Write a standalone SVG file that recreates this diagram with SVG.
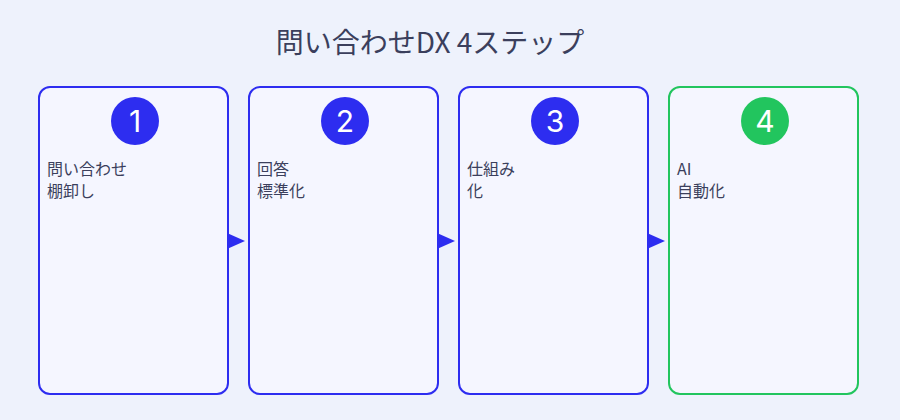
<svg xmlns="http://www.w3.org/2000/svg" width="900" height="420" viewBox="0 0 900 420">
<style>
text{font-family:"Noto Sans CJK JP","Noto Sans",sans-serif;fill:#3b3f5c}
.box{fill:#f5f6ff;stroke:#2d2df0;stroke-width:2}
.g .box{stroke:#22c55e}
.c{fill:#2d2df0}
.g .c{fill:#22c55e}
.n{fill:#fff;font-size:30px;text-anchor:middle;font-family:"Inter","Noto Sans",sans-serif}
.t{font-size:16px}
</style>
<defs><marker id="ah" markerWidth="10" markerHeight="10" refX="9" refY="5" orient="auto" markerUnits="userSpaceOnUse"><path d="M0,0L10,5L0,10Z" fill="#2d2df0"/></marker></defs>
<rect width="900" height="420" fill="#eef2fc"/>
<text x="430" y="53" font-size="28" text-anchor="middle">問い合わせDX 4ステップ</text>
<g id="step1"><rect class="box" x="39" y="87" width="189" height="307" rx="11"/><circle class="c" cx="135" cy="121" r="24"/><text class="n" x="135" y="132">1</text><text class="t" x="47" y="175">問い合わせ</text><text class="t" x="47" y="197">棚卸し</text></g>
<g id="step2"><rect class="box" x="249" y="87" width="189" height="307" rx="11"/><circle class="c" cx="345" cy="121" r="24"/><text class="n" x="345" y="132">2</text><text class="t" x="257" y="175">回答</text><text class="t" x="257" y="197">標準化</text></g>
<g id="step3"><rect class="box" x="459" y="87" width="189" height="307" rx="11"/><circle class="c" cx="555" cy="121" r="24"/><text class="n" x="555" y="132">3</text><text class="t" x="467" y="175">仕組み</text><text class="t" x="467" y="197">化</text></g>
<g id="step4" class="g"><rect class="box" x="669" y="87" width="189" height="307" rx="11"/><circle class="c" cx="765" cy="121" r="24"/><text class="n" x="765" y="132">4</text><text class="t" x="677" y="175">AI</text><text class="t" x="677" y="197">自動化</text></g>
<g id="connectors">
<path d="M227,233L245,241L227,249Z" fill="#2d2df0"/>
<path d="M437,233L455,241L437,249Z" fill="#2d2df0"/>
<path d="M647,233L665,241L647,249Z" fill="#2d2df0"/>
</g>
</svg>
